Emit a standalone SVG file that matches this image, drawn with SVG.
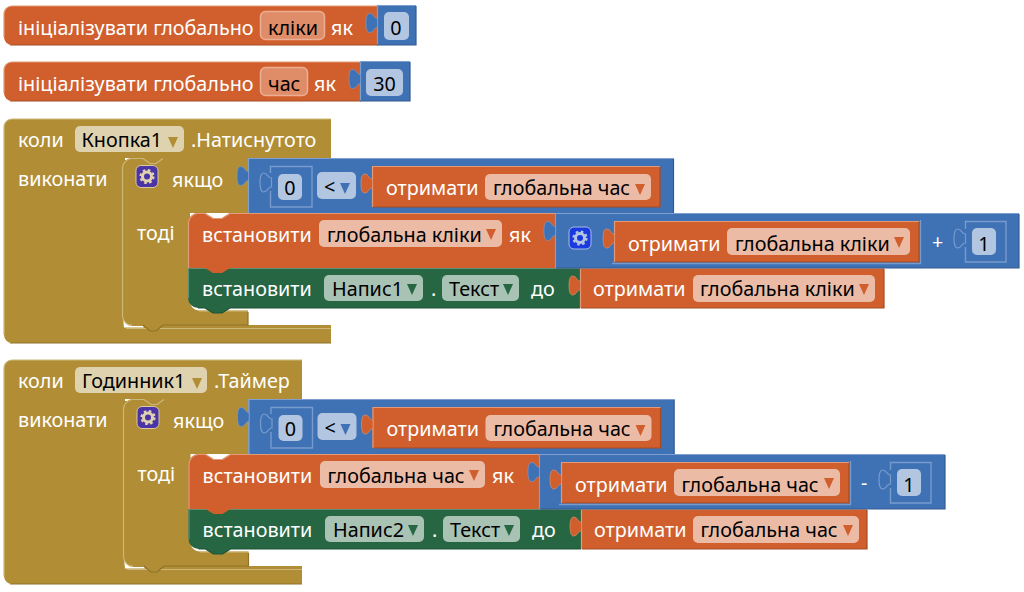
<svg xmlns="http://www.w3.org/2000/svg" width="1024" height="592" viewBox="0 0 1024 592">
<style>
text{font-family:"Noto Sans","Open Sans",sans-serif;font-size:19.750px;fill:#fff;white-space:pre;transform:translateY(1px)}
text.k{fill:#000}
text.m{text-anchor:middle}
.o{fill:#D05F2D}.b{fill:#3F71B5}.g{fill:#B18E35}.n{fill:#266643}
.ol,.bl,.gl,.nl,.od,.bd,.gd,.nd,.sk{fill:none;stroke-width:1.2}
.ol{stroke:#E39A78}.bl{stroke:#7F9FD0}.gl{stroke:#CDB778}.nl{stroke:#5F8E74}
.od{stroke:#A64C24}.bd{stroke:#325A91}.gd{stroke:#8E722A}.nd{stroke:#1E5236}
.sk{stroke:#789BCD;stroke-width:1.4}
.fo{fill:#ECBBA6}.fb{fill:#B2C6E1}.fg{fill:#DFD2AE}.fn{fill:#A8C2B4}
.fv{fill:#DF8C69;stroke:#EBAE93;stroke-width:1.5}
.to{fill:#D05F2D;stroke:#E39A78;stroke-width:.6}.tb{fill:#3F71B5;stroke:#7F9FD0;stroke-width:.6}.ts{fill:#3F71B5;stroke:#789BCD;stroke-width:1.2}
.ao{fill:#D05F2D}.ab{fill:#3F71B5}.ag{fill:#B18E35}.an{fill:#266643}
</style>
<defs>
<path id="tab" d="M11.500,5C8,5.500 8,0 3.500,0C1,0 0,4 0,9.500S1,19 3.500,19C8,19 8,13.500 11.500,14z"/>
<path id="tri" d="M0,0h10l-5,11z"/>
<g id="gear"><circle r="4.500" fill="none" stroke-width="3"/><circle r="6.300" fill="none" stroke-width="2.600" stroke-dasharray="2.500 2.450"/></g>
</defs>

<g id="init-kliky">
<path class="o" d="M12,6H378V45H12a8,8 0 0 1 -8,-8V14a8,8 0 0 1 8,-8z"/>
<path class="ol" d="M378,6H12a8,8 0 0 0 -8,8V37"/><path class="od" d="M10,45H378"/>
<text x="18" y="34">ініціалізувати глобально</text>
<rect class="fv" x="260.500" y="11.500" width="64" height="28" rx="5"/>
<text class="k" x="268" y="34">кліки</text><text x="331" y="34">як</text>
<path class="b" d="M377,5H416V45H377z"/><path class="bl" d="M377.500,45V5.500H416"/><path class="bd" d="M377,45H416V6"/>
<use href="#tab" x="366" y="13.500" class="tb"/>
<rect class="fb" x="384" y="12" width="25" height="28" rx="5"/>
<text class="k m" x="396" y="34">0</text>
</g>

<g id="init-chas">
<path class="o" d="M12,62H361V101H12a8,8 0 0 1 -8,-8V70a8,8 0 0 1 8,-8z"/>
<path class="ol" d="M361,62H12a8,8 0 0 0 -8,8V93"/><path class="od" d="M10,101H361"/>
<text x="18" y="90">ініціалізувати глобально</text>
<rect class="fv" x="260.500" y="67.500" width="47" height="28" rx="5"/>
<text class="k" x="268" y="90">час</text><text x="314" y="90">як</text>
<path class="b" d="M360,61H410V101H360z"/><path class="bl" d="M360.500,101V61.500H410"/><path class="bd" d="M360,101H410V62"/>
<use href="#tab" x="349" y="69.500" class="tb"/>
<rect class="fb" x="366" y="69" width="37" height="27" rx="5"/>
<text class="k m" x="384.500" y="90">30</text>
</g>

<g id="event-knopka">
<path class="g" d="M12,119H331V158H125V325H331V343H12a8,8 0 0 1 -8,-8V127a8,8 0 0 1 8,-8z"/>
<path class="g" d="M122,160H130V328H122z"/>
<path class="gl" d="M331,119H12a8,8 0 0 0 -8,8V335"/><path class="gl" d="M126,328.500H331"/><path class="gd" d="M10,343H331"/>
<text x="18" y="146">коли</text>
<rect class="fg" x="75" y="126" width="109" height="26" rx="5"/>
<text class="k" x="81.500" y="146">Кнопка1</text><use href="#tri" x="168" y="137" class="ag"/>
<text x="191" y="146">.Натиснутото</text>
<text x="18" y="185">виконати</text>
</g>
<g id="if-knopka">
<path class="g" d="M132,158H248V213H190V301.500a9,9 0 0 0 9,9H248V325H163l-7,6h-6l-7,-6H132a10,10 0 0 1 -10,-10V168a10,10 0 0 1 10,-10z"/>
<path fill="#fff" d="M123,318a10,10 0 0 0 9,8H143l1,1.500H124z"/>
<path class="gl" d="M163,158.500l-7,5h-6l-7,-5H132a10,10 0 0 0 -9.500,10V316a10,10 0 0 0 9.500,9.500"/>
<path class="gl" d="M199,311H248"/><path class="gd" d="M163,325l-7,6h-6l-7,-6M163,325H248V312"/>
<rect x="136" y="165.500" width="22" height="22" rx="5" fill="#4A34A6" stroke="#D8CB9E" stroke-width="1"/>
<use href="#gear" x="147" y="176.500" stroke="#DFD2AE"/>
<text x="172" y="186">якщо</text>
<text x="137" y="239">тоді</text>
</g>
<g id="compare-knopka">
<path class="b" d="M248,158H674V213H248z"/><path class="bl" d="M248.500,213V158.500H674"/><path class="bd" d="M673.500,159V213"/>
<use href="#tab" x="237" y="166.500" class="tb"/>
<path class="sk" d="M270.500,173V166.500H312V207H270.500V191"/>
<use href="#tab" x="260" y="173" class="ts"/>
<rect class="fb" x="278" y="174" width="24" height="26" rx="5"/>
<text class="k m" x="290" y="194">0</text>
<rect class="fb" x="317" y="172" width="39" height="27" rx="5"/>
<text class="k" x="324" y="193">&lt;</text><use href="#tri" x="340" y="183" class="ab"/>
<path class="o" d="M372,166H660V207H372z"/><path class="ol" d="M372.500,207V166.500H660"/><path class="od" d="M373,207H660V167"/>
<use href="#tab" x="361" y="174" class="to"/>
<text x="386" y="194">отримати</text>
<rect class="fo" x="485" y="174" width="166" height="26" rx="5"/>
<text class="k" x="493" y="194">глобальна час</text><use href="#tri" x="635" y="184" class="ao"/>
</g>
<g id="set-green-knopka">
<path class="n" d="M198,268H580V308H230l-8,5h-9l-8,-5H198a10,10 0 0 1 -10,-10V268z"/>
<path class="nl" d="M188.500,298V268.500H580"/><path class="nd" d="M198,308H205l8,5h9l8,-5H580"/>
<text x="202" y="295">встановити</text>
<rect class="fn" x="324" y="275" width="99" height="26" rx="5"/>
<text class="k" x="332" y="295">Напис1</text><use href="#tri" x="407" y="284" class="an"/>
<text x="431" y="295">.</text>
<rect class="fn" x="442" y="275" width="77" height="26" rx="5"/>
<text class="k" x="449" y="295">Текст</text><use href="#tri" x="503" y="284" class="an"/>
<text x="531" y="295">до</text>
</g>
<g id="get-kliky-2">
<path class="o" d="M580,268H884V308H580z"/><path class="ol" d="M580.500,308V268.500H884"/><path class="od" d="M581,308H884V269"/>
<use href="#tab" x="569" y="276" class="to"/>
<text x="593" y="295">отримати</text>
<rect class="fo" x="693" y="275" width="182" height="27" rx="5"/>
<text class="k" x="700" y="295">глобальна кліки</text><use href="#tri" x="859" y="284" class="ao"/>
</g>
<g id="set-kliky">
<path class="o" d="M198,213H205l8,5h9l8,-5H555V268H230l-8,5h-9l-8,-5H188V223a10,10 0 0 1 10,-10z"/>
<path class="ol" d="M230,213.500l-8,5h-9l-8,-5H198a10,10 0 0 0 -9.500,10V268M230,213.500H555"/>
<text x="202" y="241">встановити</text>
<rect class="fo" x="319" y="220" width="183" height="27" rx="5"/>
<text class="k" x="327" y="241">глобальна кліки</text><use href="#tri" x="486" y="229" class="ao"/>
<text x="509" y="241">як</text>
</g>
<g id="sum-kliky">
<path class="b" d="M555,213H1019V268H555z"/><path class="bl" d="M555.500,268V213.500H1019"/><path class="bd" d="M556,268H1019V214"/>
<use href="#tab" x="544" y="221.500" class="tb"/>
<rect x="569" y="227" width="22" height="22" rx="5" fill="#1A3AE0" stroke="#A9BFE0" stroke-width="1"/>
<use href="#gear" x="580" y="238" stroke="#B2C6E1"/>
<path class="o" d="M614,221H919V262H614z"/><path class="ol" d="M614.500,262V221.500H919"/><path class="od" d="M615,262H919V222"/>
<path class="sk" d="M612,263.500H920.500V220"/>
<use href="#tab" x="603" y="229" class="to"/>
<text x="628" y="250">отримати</text>
<rect class="fo" x="727" y="228" width="183" height="27" rx="5"/>
<text class="k" x="735" y="250">глобальна кліки</text><use href="#tri" x="894" y="237" class="ao"/>
<text x="932" y="248">+</text>
<path class="sk" d="M965.500,229V221.500H1006V262H965.500V247"/>
<use href="#tab" x="954" y="229" class="ts"/>
<rect class="fb" x="972" y="228" width="24" height="27" rx="5"/>
<text class="k m" x="984" y="250">1</text>
</g>

<g id="event-godynnyk">
<path class="g" d="M12,360H302V399H125V566H302V584H12a8,8 0 0 1 -8,-8V368a8,8 0 0 1 8,-8z"/>
<path class="g" d="M123,401H131V569H123z"/>
<path class="gl" d="M302,360H12a8,8 0 0 0 -8,8V576"/><path class="gl" d="M127,569.500H302"/><path class="gd" d="M10,584H302"/>
<text x="18" y="387">коли</text>
<rect class="fg" x="75" y="367" width="132" height="26" rx="5"/>
<text class="k" x="82" y="387">Годинник1</text><use href="#tri" x="192" y="378" class="ag"/>
<text x="214" y="387">.Таймер</text>
<text x="18" y="426">виконати</text>
</g>
<g id="if-godynnyk">
<path class="g" d="M133,399H248.500V454H190.500V542.500a9,9 0 0 0 9,9H248.500V566H164l-7,6h-6l-7,-6H133a10,10 0 0 1 -10,-10V409a10,10 0 0 1 10,-10z"/>
<path fill="#fff" d="M124,559a10,10 0 0 0 9,8H144l1,1.500H125z"/>
<path class="gl" d="M164,399.500l-7,5h-6l-7,-5H133a10,10 0 0 0 -9.500,10V557a10,10 0 0 0 9.500,9.500"/>
<path class="gl" d="M199.500,552H248.500"/><path class="gd" d="M164,566l-7,6h-6l-7,-6M164,566H248.500V553"/>
<rect x="137" y="406.500" width="22" height="22" rx="5" fill="#4A34A6" stroke="#D8CB9E" stroke-width="1"/>
<use href="#gear" x="148" y="417.500" stroke="#DFD2AE"/>
<text x="173" y="427">якщо</text>
<text x="137.500" y="480">тоді</text>
</g>
<g id="compare-godynnyk">
<path class="b" d="M248.500,399H674.500V454H248.500z"/><path class="bl" d="M249,454V399.500H674.500"/><path class="bd" d="M674,400V454"/>
<use href="#tab" x="237.500" y="407.500" class="tb"/>
<path class="sk" d="M271,414V407.500H312.500V448H271V432"/>
<use href="#tab" x="260.500" y="414" class="ts"/>
<rect class="fb" x="278.500" y="415" width="24" height="26" rx="5"/>
<text class="k m" x="290.500" y="435">0</text>
<rect class="fb" x="317.500" y="413" width="39" height="27" rx="5"/>
<text class="k" x="324.500" y="434">&lt;</text><use href="#tri" x="340.500" y="424" class="ab"/>
<path class="o" d="M372.500,407H660.500V448H372.500z"/><path class="ol" d="M373,448V407.500H660.500"/><path class="od" d="M373.500,448H660.500V408"/>
<use href="#tab" x="361.500" y="415" class="to"/>
<text x="386.500" y="435">отримати</text>
<rect class="fo" x="485.500" y="415" width="166" height="26" rx="5"/>
<text class="k" x="493.500" y="435">глобальна час</text><use href="#tri" x="635.500" y="425" class="ao"/>
</g>
<g id="set-green-godynnyk">
<path class="n" d="M198.500,509H581V549H230.500l-8,5h-9l-8,-5H198.500a10,10 0 0 1 -10,-10V509z"/>
<path class="nl" d="M189,539V509.500H581"/><path class="nd" d="M198.500,549H205.500l8,5h9l8,-5H581"/>
<text x="202.500" y="536">встановити</text>
<rect class="fn" x="325" y="516" width="99" height="26" rx="5"/>
<text class="k" x="333" y="536">Напис2</text><use href="#tri" x="408" y="525" class="an"/>
<text x="432" y="536">.</text>
<rect class="fn" x="443" y="516" width="77" height="26" rx="5"/>
<text class="k" x="450" y="536">Текст</text><use href="#tri" x="504" y="525" class="an"/>
<text x="532" y="536">до</text>
</g>
<g id="get-chas-2">
<path class="o" d="M581,509H867V549H581z"/><path class="ol" d="M581.500,549V509.500H867"/><path class="od" d="M582,549H867V510"/>
<use href="#tab" x="570" y="517" class="to"/>
<text x="594" y="536">отримати</text>
<rect class="fo" x="693" y="516" width="166" height="27" rx="5"/>
<text class="k" x="700.500" y="536">глобальна час</text><use href="#tri" x="843" y="525" class="ao"/>
</g>
<g id="set-chas">
<path class="o" d="M198.500,454H205.500l8,5h9l8,-5H539V509H230.500l-8,5h-9l-8,-5H188.500V464a10,10 0 0 1 10,-10z"/>
<path class="ol" d="M230.500,454.500l-8,5h-9l-8,-5H198.500a10,10 0 0 0 -9.500,10V509M230.500,454.500H539"/>
<text x="202.500" y="482">встановити</text>
<rect class="fo" x="320" y="461" width="165" height="27" rx="5"/>
<text class="k" x="327.500" y="482">глобальна час</text><use href="#tri" x="469" y="470" class="ao"/>
<text x="492" y="482">як</text>
</g>
<g id="diff-chas">
<path class="b" d="M539,454H945V509H539z"/><path class="bl" d="M539.500,509V454.500H945"/><path class="bd" d="M540,509H945V455"/>
<use href="#tab" x="528" y="462.500" class="tb"/>
<path class="o" d="M561,462H849V503H561z"/><path class="ol" d="M561.500,503V462.500H849"/><path class="od" d="M562,503H849V463"/>
<path class="sk" d="M559,504.500H850.500V461"/>
<use href="#tab" x="550" y="470" class="to"/>
<text x="575" y="491">отримати</text>
<rect class="fo" x="674" y="469" width="166" height="27" rx="5"/>
<text class="k" x="681.500" y="491">глобальна час</text><use href="#tri" x="824" y="478" class="ao"/>
<text x="861" y="489">-</text>
<path class="sk" d="M890.500,470V462.500H931V503H890.500V488"/>
<use href="#tab" x="879" y="470" class="ts"/>
<rect class="fb" x="897" y="469" width="24" height="27" rx="5"/>
<text class="k m" x="909" y="491">1</text>
</g>
</svg>
